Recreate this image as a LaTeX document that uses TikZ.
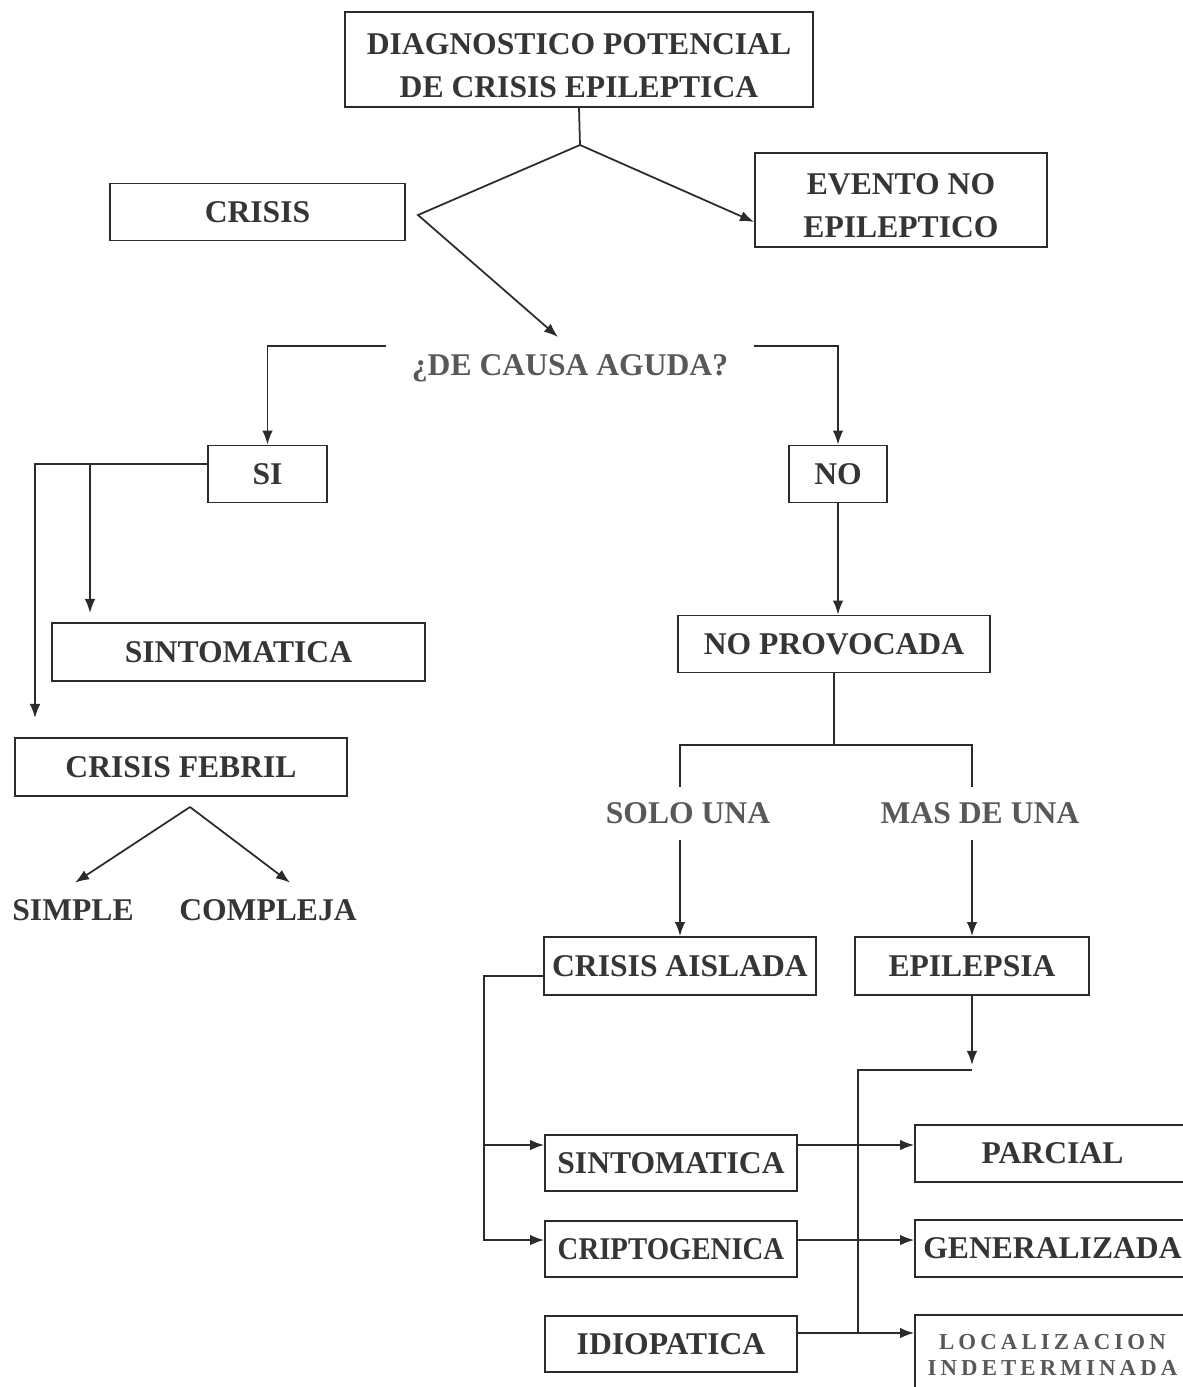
\documentclass[tikz,border=0pt]{standalone}
\usepackage{fontspec}
\setmainfont{Liberation Serif}
\usetikzlibrary{arrows.meta}

\begin{document}
\begin{tikzpicture}[x=0.02cm,y=-0.02cm,>={Latex[length=8pt,width=6pt]},line width=1pt]
	\definecolor{inkgray}{HTML}{353535}
	\definecolor{softgray}{HTML}{585858}
	\definecolor{linegray}{HTML}{2B2B2B}
	\tikzset{
		txt/.style={font=\fontsize{18}{24.5}\selectfont\bfseries,text=inkgray,align=center},
		box/.style={txt,draw=linegray,inner sep=0pt},
		conn/.style={draw=linegray}
	}
	\useasboundingbox (0,0) rectangle (1183,1387);

	% top part
	\node[box,minimum width=9.36cm,minimum height=1.9cm] (diag) at (579,59.5) {\rule{0pt}{0.65cm}DIAGNOSTICO POTENCIAL\\DE CRISIS EPILEPTICA};
	\node[box,minimum width=5.9cm,minimum height=1.14cm] (crisis) at (257.5,212) {CRISIS};
	\node[box,minimum width=5.84cm,minimum height=1.88cm] (evento) at (901,200) {\rule{0pt}{0.65cm}EVENTO NO\\EPILEPTICO};
	\node[txt,text=softgray,inner xsep=0.5cm,inner ysep=0.15cm] (causa) at (570,368) {¿DE CAUSA AGUDA?};
	\node[box,minimum width=2.38cm,minimum height=1.14cm] (si) at (267.5,474) {SI};
	\node[box,minimum width=1.96cm,minimum height=1.14cm] (no) at (838,474) {NO};

	% left branch
	\node[box,minimum width=7.46cm,minimum height=1.16cm] (sintL) at (238.5,652) {SINTOMATICA};
	\node[box,minimum width=6.64cm,minimum height=1.16cm] (febril) at (181,767) {CRISIS FEBRIL};
	\node[txt] (simple) at (73,910) {SIMPLE};
	\node[txt] (compleja) at (268,910) {COMPLEJA};

	% right branch
	\node[box,minimum width=6.24cm,minimum height=1.14cm] (noprov) at (834,644) {NO PROVOCADA};
	\node[txt,text=softgray,inner ysep=0.3cm] (solo) at (688,813) {SOLO UNA};
	\node[txt,text=softgray,inner ysep=0.3cm] (mas) at (980,813) {MAS DE UNA};
	\node[box,minimum width=5.44cm,minimum height=1.16cm] (aislada) at (680,966) {CRISIS AISLADA};
	\node[box,minimum width=4.68cm,minimum height=1.16cm] (epil) at (972,966) {EPILEPSIA};

	% bottom
	\node[box,minimum width=5.04cm,minimum height=1.12cm] (sintR) at (671,1163) {SINTOMATICA};
	\node[box,minimum width=5.04cm,minimum height=1.12cm,font=\fontsize{18}{20}\selectfont\bfseries\addfontfeature{FakeStretch=0.91}] (cripto) at (671,1249) {CRIPTOGENICA};
	\node[box,minimum width=5.04cm,minimum height=1.12cm] (idio) at (671,1344) {IDIOPATICA};
	\node[box,minimum width=5.5cm,minimum height=1.14cm] (parcial) at (1052.5,1153.5) {PARCIAL};
	\node[box,minimum width=5.5cm,minimum height=1.14cm] (gen) at (1052.5,1248.5) {GENERALIZADA};
	\node[box,minimum width=5.5cm,minimum height=1.6cm,text=softgray,
		font=\fontsize{13}{14.5}\selectfont\bfseries\addfontfeature{LetterSpace=18}] (loc) at (1052.5,1355) {LOCALIZACION\\INDETERMINADA};

	% helper points
	\coordinate (top) at (580,145);
	\coordinate (bend) at (418,215);
	\coordinate (cin) at (558,337);
	\coordinate (sibr) at (90,463);
	\coordinate (stin) at (90,613);
	\coordinate (fbin) at (35,718);
	\coordinate (fork) at (190,807);
	\coordinate (split) at (834,745);
	\coordinate (ejoin) at (972,1070);
	\coordinate (edrop) at (858,1333);

	% connectors
	\draw[conn] (diag.south) -- (top);
	\draw[conn,->] (top) -- ([yshift=-0.44cm]evento.west);
	\draw[conn,->] (top) -- (bend) -- (cin);
	\draw[conn,->] (causa.north west) -| (si.north);
	\draw[conn,->] (causa.north east) -| (no.north);

	\draw[conn,->] ([yshift=0.2cm]si.west) -| (fbin);
	\draw[conn,->] (sibr) -- (stin);
	\draw[conn,->] (fork) -- ([xshift=0.04cm,yshift=0.2cm]simple.north);
	\draw[conn,->] (fork) -- ([xshift=0.44cm,yshift=0.2cm]compleja.north);

	\draw[conn,->] (no.south) -- (no.south |- noprov.north);
	\draw[conn] (noprov.south) -- (split);
	\draw[conn] (aislada.north |- solo.north) |- (split) -| (epil.north |- mas.north);
	\draw[conn,->] (aislada.north |- solo.south) -- (aislada.north);
	\draw[conn,->] (epil.north |- mas.south) -- (epil.north);

	\draw[conn,->] ([yshift=-0.2cm]aislada.west) -- ++(-59,0) |- ([yshift=0.36cm]sintR.west);
	\draw[conn,->] ([yshift=-0.2cm]aislada.west) -- ++(-59,0) |- ([yshift=0.18cm]cripto.west);
	\draw[conn,->] (epil.south) -- ([yshift=0.1cm]ejoin);
	\draw[conn] (ejoin) -| (edrop);

	\draw[conn,->] ([yshift=0.36cm]sintR.east) -- ([yshift=0.36cm]sintR.east -| parcial.west);
	\draw[conn,->] ([yshift=0.18cm]cripto.east) -- ([yshift=0.18cm]cripto.east -| gen.west);
	\draw[conn,->] ([yshift=0.22cm]idio.east) -- ([yshift=0.22cm]idio.east -| loc.west);
\end{tikzpicture}
\end{document}
